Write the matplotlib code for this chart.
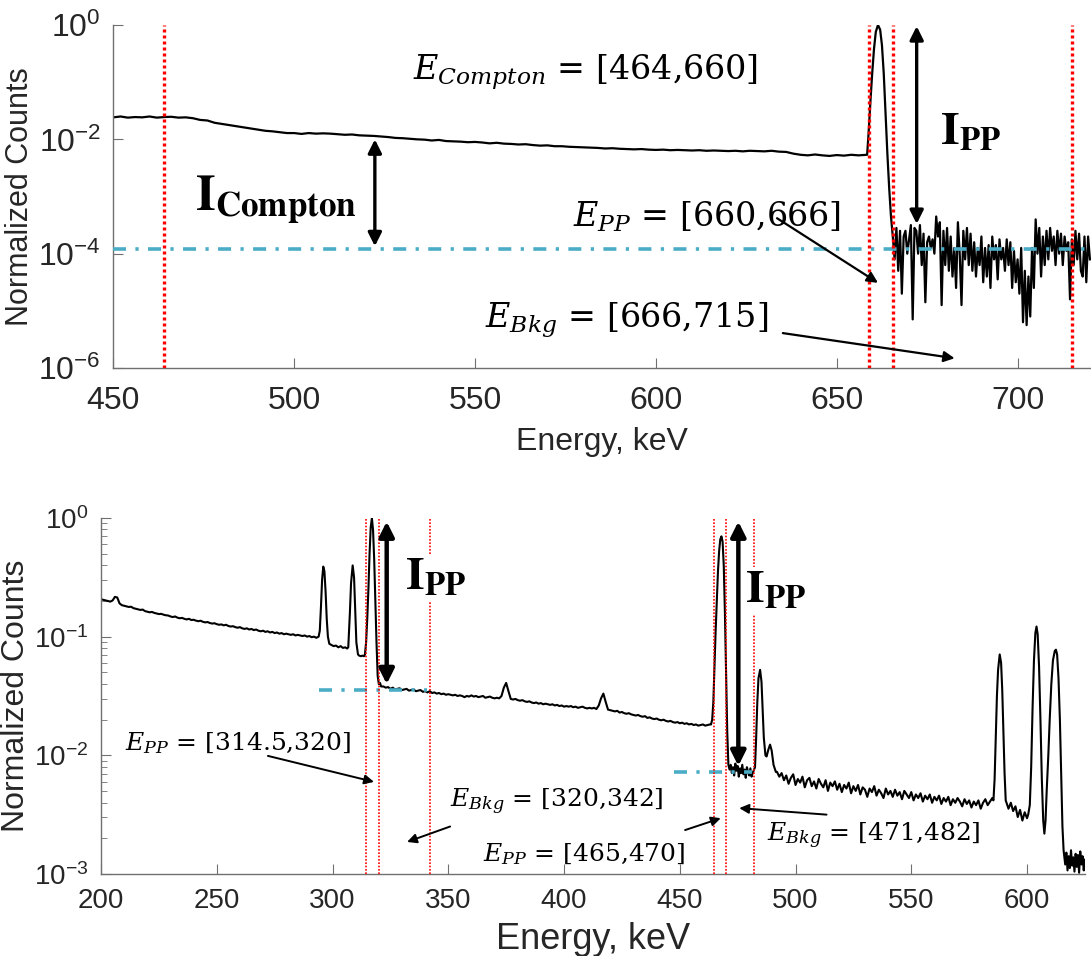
import matplotlib
matplotlib.use("Agg")
import matplotlib.pyplot as plt
import numpy as np
from matplotlib.ticker import FixedLocator, NullLocator, LogLocator

# ---------------- top panel: log10(normalized counts) ----------------
top_cont_start, top_cont_step = 450, 2
top_cont_log = [
    -1.615, -1.60, -1.62, -1.61, -1.615, -1.60, -1.62, -1.61, -1.605, -1.62,
    -1.615, -1.63, -1.66, -1.67, -1.71, -1.73, -1.75, -1.77, -1.79, -1.81,
    -1.83, -1.85, -1.86, -1.875, -1.89, -1.89, -1.905, -1.89, -1.90, -1.895,
    -1.90, -1.91, -1.92, -1.915, -1.93, -1.935, -1.94, -1.95, -1.96, -1.975,
    -1.98, -1.99, -2.00, -2.005, -2.02, -2.01, -2.03, -2.035, -2.04, -2.05,
    -2.045, -2.055, -2.07, -2.06, -2.075, -2.08, -2.09, -2.085, -2.10, -2.11,
    -2.105, -2.12, -2.12, -2.13, -2.135, -2.14, -2.145, -2.15, -2.16, -2.155,
    -2.165, -2.17, -2.175, -2.17, -2.18, -2.185, -2.18, -2.19, -2.185, -2.19,
    -2.195, -2.19, -2.20, -2.195, -2.20, -2.205, -2.20, -2.21, -2.20, -2.205,
    -2.21, -2.20, -2.215, -2.22, -2.25, -2.27, -2.28, -2.265, -2.28, -2.29,
    -2.275, -2.285, -2.27, -2.28,
]
top_peak_energy = [658.4, 658.8, 659.3, 659.8, 660.3, 660.8, 661.4, 662.0,
                   662.5, 663.0, 663.5, 664.0, 664.5, 665.0]
top_peak_log = [-2.27, -1.9, -1.35, -0.85, -0.42, -0.12, 0.0, -0.08,
                -0.35, -0.85, -1.55, -2.25, -2.85, -3.35]
top_bkg_start, top_bkg_step = 665.5, 0.5
top_bkg_log = [
    -3.7, -4.1, -3.55, -4.3, -3.6, -4.7, -3.7, -3.6, -4.0, -3.75,
    -3.5, -5.15, -3.55, -3.6, -4.0, -3.5, -4.2, -3.65, -4.85, -3.8,
    -3.7, -3.9, -3.75, -4.0, -3.35, -3.7, -3.45, -4.9, -3.6, -4.2,
    -3.55, -4.3, -3.7, -4.4, -3.9, -4.6, -3.45, -4.0, -4.9, -3.6,
    -4.1, -3.55, -4.2, -3.65, -4.3, -3.8, -4.4, -3.9, -4.2, -3.7,
    -4.5, -3.9, -4.4, -3.85, -4.6, -3.7, -4.1, -3.85, -4.45, -3.75,
    -4.1, -3.9, -4.3, -3.75, -4.2, -3.8, -4.6, -3.95, -4.5, -4.1,
    -4.7, -3.9, -5.2, -4.3, -5.25, -4.4, -5.1, -3.9, -4.6, -3.4,
    -4.0, -3.55, -4.4, -3.7, -4.2, -3.6, -4.1, -3.55, -3.95, -3.7,
    -4.2, -3.6, -4.0, -3.65, -4.2, -3.7, -3.95, -3.8, -4.8, -3.75,
    -4.2, -3.6, -4.1, -3.65, -4.3, -4.4, -3.7, -4.5, -3.7, -4.1,
]
top_windows = [464, 659, 665.5, 715]
top_bkg_level = 1.2e-4

# ---------------- bottom panel: log10(normalized counts) ----------------
bot_seg1_start = 200
bot_seg1_log = [
    -0.685, -0.69, -0.695, -0.70, -0.705, -0.695, -0.665, -0.67, -0.72, -0.735,
    -0.74, -0.745, -0.75, -0.748, -0.76, -0.765, -0.77, -0.775, -0.772, -0.785,
    -0.79, -0.795, -0.792, -0.80, -0.805, -0.81, -0.808, -0.815, -0.82, -0.822,
    -0.83, -0.835, -0.83, -0.84, -0.845, -0.842, -0.85, -0.855, -0.85, -0.86,
    -0.858, -0.865, -0.87, -0.866, -0.875, -0.88, -0.877, -0.885, -0.89, -0.887,
    -0.895, -0.90, -0.897, -0.905, -0.90, -0.91, -0.915, -0.912, -0.92, -0.925,
    -0.92, -0.93, -0.935, -0.93, -0.94, -0.935, -0.945, -0.94, -0.95, -0.955,
    -0.95, -0.96, -0.955, -0.965, -0.96, -0.97, -0.965, -0.975, -0.97, -0.98,
    -0.975, -0.98, -0.985, -0.98, -0.99, -0.985, -0.99, -0.995, -0.99, -1.0,
    -0.995, -1.005, -1.0, -1.01,
]
bot_peaks1 = [
    (294.0, -1.0), (294.5, -0.95), (295.0, -0.75), (295.5, -0.52), (296.0, -0.41),
    (296.5, -0.45), (297.0, -0.62), (297.5, -0.85), (298.0, -1.0), (298.6, -1.06),
    (299.5, -1.07), (300.5, -1.08), (301.5, -1.075), (302.5, -1.09), (303.5, -1.08),
    (304.5, -1.095), (305.5, -1.09), (306.3, -1.10), (306.8, -1.09), (307.5, -0.80),
    (308.0, -0.55), (308.7, -0.40), (309.3, -0.50), (309.8, -0.78), (310.3, -1.05),
    (311.0, -1.15), (311.5, -1.16), (312.3, -1.165), (313.0, -1.16), (313.6, -1.165),
    (314.0, -1.15), (314.5, -1.05), (315.0, -0.85), (315.5, -0.6), (316.0, -0.3),
    (316.5, -0.08), (317.0, 0.0), (317.5, -0.1), (318.0, -0.35), (318.5, -0.7),
    (319.0, -1.05), (319.5, -1.33), (320.0, -1.40), (320.5, -1.39), (321.0, -1.42),
]
bot_seg2_start = 322
bot_seg2_log = [
    -1.42, -1.43, -1.425, -1.44, -1.43, -1.445, -1.44, -1.435, -1.45, -1.445,
    -1.44, -1.455, -1.45, -1.445, -1.46, -1.455, -1.45, -1.465, -1.46, -1.47,
    -1.46, -1.475, -1.47, -1.48, -1.475, -1.485, -1.48, -1.49, -1.485, -1.49,
    -1.495, -1.49, -1.50, -1.495, -1.50, -1.51, -1.5, -1.505, -1.495, -1.505,
    -1.50, -1.51, -1.505, -1.50, -1.515, -1.51, -1.505, -1.515, -1.52, -1.515,
    -1.52, -1.50, -1.43, -1.39, -1.46, -1.525, -1.53, -1.525, -1.535, -1.54,
    -1.535, -1.545, -1.55, -1.545, -1.555, -1.56, -1.555, -1.565, -1.56, -1.57,
    -1.565, -1.57, -1.575, -1.57, -1.58, -1.575, -1.585, -1.58, -1.59, -1.585,
    -1.59, -1.585, -1.595, -1.59, -1.60, -1.595, -1.59, -1.60, -1.605, -1.60,
    -1.605, -1.60, -1.61, -1.58, -1.52, -1.48, -1.55, -1.615, -1.62, -1.625,
    -1.63, -1.625, -1.64, -1.635, -1.645, -1.65, -1.645, -1.655, -1.66, -1.665,
    -1.66, -1.67, -1.675, -1.67, -1.685, -1.68, -1.69, -1.695, -1.69, -1.70,
    -1.705, -1.70, -1.71, -1.715, -1.71, -1.72, -1.725, -1.72, -1.73, -1.725,
    -1.735, -1.73, -1.74, -1.735, -1.745, -1.74, -1.75, -1.745, -1.74, -1.75,
    -1.745, -1.74,
]
bot_peaks2 = [
    (463.5, -1.74), (464.0, -1.70), (464.5, -1.55), (465.0, -1.25), (465.5, -0.95),
    (466.0, -0.70), (466.5, -0.45), (467.0, -0.28), (467.5, -0.18), (468.0, -0.155),
    (468.5, -0.2), (469.0, -0.4), (469.5, -0.8), (470.0, -1.3), (470.5, -1.8),
    (471.0, -2.08), (471.5, -2.12), (472.0, -2.08), (472.5, -2.15), (473.0, -2.10),
    (473.5, -2.17), (474.0, -2.07), (474.5, -2.13), (475.0, -2.09), (475.5, -2.18),
    (476.0, -2.11), (476.5, -2.15), (477.0, -2.08), (477.5, -2.16), (478.0, -2.12),
    (478.5, -2.19), (479.0, -2.10), (479.5, -2.14), (480.0, -2.17), (480.5, -2.11),
    (481.0, -2.18), (481.5, -2.15), (482.5, -2.10), (483.0, -1.85), (483.5, -1.55),
    (484.0, -1.35), (484.7, -1.28), (485.3, -1.38), (485.8, -1.62), (486.3, -1.85),
    (487.0, -2.0), (487.5, -2.01), (488.3, -1.95), (489.0, -1.91), (489.7, -1.96),
    (490.5, -2.08), (491.5, -2.14),
]
bot_seg3_start = 492
bot_seg3_log = [
    -2.14, -2.18, -2.15, -2.21, -2.17, -2.24, -2.19, -2.16, -2.25, -2.20,
    -2.23, -2.18, -2.27, -2.21, -2.19, -2.26, -2.22, -2.28, -2.20, -2.24,
    -2.27, -2.21, -2.30, -2.23, -2.26, -2.22, -2.29, -2.24, -2.31, -2.25,
    -2.28, -2.23, -2.32, -2.26, -2.30, -2.25, -2.33, -2.27, -2.29, -2.35,
    -2.28, -2.31, -2.26, -2.34, -2.29, -2.32, -2.36, -2.28, -2.33, -2.30,
    -2.35, -2.29, -2.34, -2.31, -2.37, -2.30, -2.33, -2.36, -2.31, -2.38,
    -2.33, -2.36, -2.32, -2.39, -2.34, -2.37, -2.33, -2.40, -2.35, -2.38,
    -2.34, -2.41, -2.36, -2.39, -2.35, -2.42, -2.37, -2.40, -2.36, -2.39,
    -2.43, -2.37, -2.41, -2.38, -2.44, -2.39, -2.42, -2.38, -2.45, -2.40,
    -2.37, -2.42, -2.39, -2.36,
]
bot_peaks3 = [
    (585.5, -2.38), (586.0, -2.2), (586.5, -1.85), (587.0, -1.5), (587.5, -1.28),
    (588.2, -1.15), (588.8, -1.22), (589.3, -1.45), (589.8, -1.8), (590.3, -2.15),
    (590.8, -2.38), (591.5, -2.42), (592.0, -2.45), (593.0, -2.40), (594.0, -2.47),
    (595.0, -2.43), (596.0, -2.52), (597.0, -2.46), (598.0, -2.55), (599.0, -2.48),
    (600.0, -2.53), (600.5, -2.50), (601.2, -2.42), (601.8, -2.1), (602.4, -1.6),
    (603.0, -1.2), (603.6, -0.97), (604.1, -0.915), (604.6, -0.98), (605.2, -1.25),
    (605.8, -1.7), (606.4, -2.2), (607.0, -2.55), (607.5, -2.66), (608.0, -2.55),
    (608.5, -2.3), (609.2, -2.0), (609.8, -1.7), (610.5, -1.4), (611.2, -1.2),
    (612.0, -1.12), (612.5, -1.11), (613.0, -1.15), (613.6, -1.35), (614.2, -1.7),
    (614.8, -2.2), (615.3, -2.6), (615.8, -2.8), (616.5, -2.92), (617.0, -2.82),
    (617.5, -2.97), (618.0, -2.85), (618.5, -2.95), (619.0, -2.80), (619.5, -2.93),
    (620.0, -2.86), (620.5, -2.98), (621.0, -2.83), (621.5, -2.94), (622.0, -2.84),
    (622.5, -2.99), (623.0, -2.81), (623.5, -2.92), (624.0, -2.85), (624.5, -2.97),
    (625.0, -2.88),
]
bot_windows = [314.5, 320, 342, 465, 470, 482]
bot_bkg_lines = [(294, 341, 0.0355), (447.5, 481, 0.0073)]

# ---------------- assemble spectra ----------------
top_e = np.concatenate([
    top_cont_start + top_cont_step * np.arange(len(top_cont_log)),
    top_peak_energy,
    top_bkg_start + top_bkg_step * np.arange(len(top_bkg_log)),
])
top_y = 10.0 ** np.concatenate([top_cont_log, top_peak_log, top_bkg_log])

p1, p2, p3 = (np.array(p) for p in (bot_peaks1, bot_peaks2, bot_peaks3))
bot_e = np.concatenate([
    bot_seg1_start + np.arange(len(bot_seg1_log)), p1[:, 0],
    bot_seg2_start + np.arange(len(bot_seg2_log)), p2[:, 0],
    bot_seg3_start + np.arange(len(bot_seg3_log)), p3[:, 0],
])
bot_y = 10.0 ** np.concatenate([bot_seg1_log, p1[:, 1], bot_seg2_log, p2[:, 1],
                                bot_seg3_log, p3[:, 1]])

# ---------------- styling ----------------
plt.rcParams['font.family'] = ['Liberation Sans', 'DejaVu Sans']
gray = '#262626'
cyan = '#4BACC6'
fig = plt.figure(figsize=(10.91, 9.56), dpi=100)
ax1 = fig.add_axes([0.1039, 0.6151, 0.8961, 0.3587])
ax2 = fig.add_axes([0.0926, 0.0858, 0.9018, 0.3724])


def style(ax, fs_tick, fs_xlab, fs_ylab, xpad, lpad):
    for s in ('top', 'right'):
        ax.spines[s].set_visible(False)
    for s in ('left', 'bottom'):
        ax.spines[s].set_color('#707070')
        ax.spines[s].set_linewidth(1.0)
    ax.tick_params(which='both', direction='in', colors='#707070',
                   labelcolor=gray, labelsize=fs_tick)
    ax.tick_params(which='major', length=7)
    ax.tick_params(axis='x', which='major', pad=xpad)
    ax.tick_params(axis='y', which='major', pad=9)
    ax.tick_params(which='minor', length=4)
    ax.set_xlabel('Energy, keV', fontsize=fs_xlab, color=gray, labelpad=lpad)
    ax.set_ylabel('Normalized Counts', fontsize=fs_ylab, color=gray, labelpad=2)


def etext(ax, x, y, s, fs):
    ax.text(x, y, s, fontsize=fs, fontfamily='DejaVu Serif',
            math_fontfamily='dejavuserif', ha='left', va='baseline', color='k')


def btext(ax, x, y, s, fs, box=False):
    kw = dict(boxstyle='square,pad=0.05', fc='white', ec='none') if box else None
    ax.text(x, y, s, fontsize=fs, math_fontfamily='stix', ha='left', va='baseline',
            color='k', bbox=kw, zorder=6)


def arrow(ax, xy, xytext, style_, lw, ms):
    ax.annotate('', xy=xy, xytext=xytext,
                arrowprops=dict(arrowstyle=style_, color='k', lw=lw, mutation_scale=ms,
                                shrinkA=0, shrinkB=0), zorder=7)


# ---------------- top panel ----------------
ax1.plot(top_e, top_y, color='k', lw=1.6, zorder=2)
ax1.axhline(top_bkg_level, color=cyan, lw=2.6, ls=(0, (3.6, 2.6, 0.9, 2.6)), zorder=3)
for v in top_windows:
    ax1.axvline(v, color='#FF0000', lw=2.4, ls=(0, (0.9, 0.9)), zorder=4)
ax1.set_yscale('log')
ax1.set_xlim(450, 720.3)
ax1.set_ylim(1e-6, 1)
ax1.yaxis.set_major_locator(FixedLocator([1e-6, 1e-4, 1e-2, 1]))
ax1.yaxis.set_minor_locator(NullLocator())
ax1.set_xticks([450, 500, 550, 600, 650, 700])
style(ax1, 23, 23, 22, 13, 8)

etext(ax1, 532.8, 10 ** -0.96, r'$E_{Compton}$ = [464,660]', 24)
etext(ax1, 577.1, 10 ** -3.53, r'$E_{PP}$ = [660,666]', 24)
etext(ax1, 552.7, 10 ** -5.30, r'$E_{Bkg}$ = [666,715]', 24)
btext(ax1, 472.6, 10 ** -3.24, r'$\mathbf{I}_{\mathbf{Compton}}$', 36)
btext(ax1, 678.5, 10 ** -2.10, r'$\mathbf{I}_{\mathbf{PP}}$', 34)
arrow(ax1, (522.3, 10 ** -3.87), (522.3, 10 ** -2.0), '<|-|>', 2.4, 20)
arrow(ax1, (672.1, 10 ** -3.48), (672.1, 10 ** -0.02), '<|-|>', 2.4, 20)
arrow(ax1, (661.4, 10 ** -4.51), (633.5, 10 ** -3.38), '-|>', 1.6, 16)
arrow(ax1, (682.6, 10 ** -5.83), (635.1, 10 ** -5.39), '-|>', 1.6, 16)

# ---------------- bottom panel ----------------
ax2.plot(bot_e, bot_y, color='k', lw=1.5, zorder=2)
for x0, x1, lev in bot_bkg_lines:
    ax2.plot([x0, x1], [lev, lev], color=cyan, lw=2.6, ls=(0, (3.6, 2.6, 0.9, 2.6)),
             zorder=3)
for v in bot_windows:
    ax2.axvline(v, color='#FF0000', lw=1.2, ls=(0, (1, 1)), zorder=4)
ax2.set_yscale('log')
ax2.set_xlim(200, 625)
ax2.set_ylim(1e-3, 1)
ax2.yaxis.set_major_locator(LogLocator(base=10, numticks=10))
ax2.yaxis.set_minor_locator(LogLocator(base=10, subs=np.arange(2, 10), numticks=20))
ax2.set_xticks([200, 250, 300, 350, 400, 450, 500, 550, 600])
style(ax2, 20, 26, 23, 10, 6)

etext(ax2, 210.4, 10 ** -1.955, r'$E_{PP}$ = [314.5,320]', 18)
etext(ax2, 350.8, 10 ** -2.44, r'$E_{Bkg}$ = [320,342]', 18)
etext(ax2, 365.0, 10 ** -2.895, r'$E_{PP}$ = [465,470]', 18)
etext(ax2, 487.7, 10 ** -2.727, r'$E_{Bkg}$ = [471,482]', 18)
btext(ax2, 331.3, 10 ** -0.607, r'$\mathbf{I}_{\mathbf{PP}}$', 34, box=True)
btext(ax2, 478.2, 10 ** -0.716, r'$\mathbf{I}_{\mathbf{PP}}$', 34, box=True)
arrow(ax2, (323.4, 10 ** -1.40), (323.4, 10 ** -0.03), '<|-|>', 3.2, 22)
arrow(ax2, (475.3, 10 ** -2.09), (475.3, 10 ** -0.03), '<|-|>', 3.2, 22)
arrow(ax2, (317.9, 10 ** -2.224), (272.1, 10 ** -2.005), '-|>', 1.4, 14)
arrow(ax2, (332.2, 10 ** -2.73), (350.8, 10 ** -2.60), '-|>', 1.4, 14)
arrow(ax2, (467.7, 10 ** -2.53), (452.3, 10 ** -2.63), '-|>', 1.4, 14)
arrow(ax2, (475.7, 10 ** -2.445), (513.4, 10 ** -2.50), '-|>', 1.4, 14)

fig.savefig('out.png', dpi=100)
